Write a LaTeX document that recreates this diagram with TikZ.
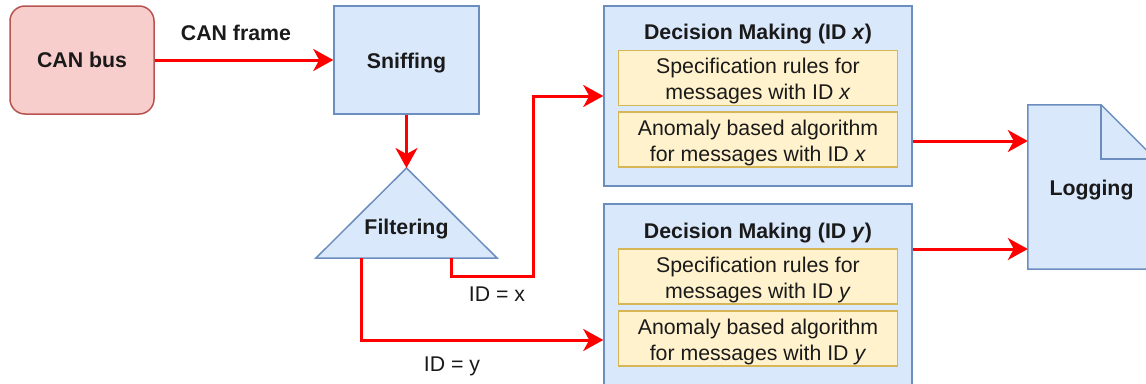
\documentclass[tikz,border=0pt]{standalone}
\usepackage{fontspec}
\setmainfont{Liberation Sans}
\usetikzlibrary{arrows.meta,calc}
\definecolor{redfill}{HTML}{F8CECC}
\definecolor{redstroke}{HTML}{B85450}
\definecolor{bluefill}{HTML}{DAE8FC}
\definecolor{bluestroke}{HTML}{6C8EBF}
\definecolor{yelfill}{HTML}{FFF2CC}
\definecolor{yelstroke}{HTML}{D6B656}
\definecolor{txtcol}{HTML}{1A1A1A}
\definecolor{linered}{HTML}{FF0000}
\begin{document}
\begin{tikzpicture}[x=1pt,y=-1pt,
  every node/.style={text=txtcol, font=\fontsize{21.3}{26}\selectfont, inner sep=0pt},
  canbox/.style={draw=redstroke, fill=redfill, line width=1.5pt, rounded corners=15pt},
  bluebox/.style={draw=bluestroke, fill=bluefill, line width=1.5pt},
  ybox/.style={draw=yelstroke, fill=yelfill, line width=1.5pt, minimum width=279pt, minimum height=55pt},
  ytext/.style={align=center, yshift=-3pt},
  conn/.style={draw=linered, line width=3pt, -{Stealth[length=20pt,width=22pt,inset=6pt]}}
]
\useasboundingbox (0,0) rectangle (1146,383);

\node[canbox, minimum width=144pt, minimum height=108pt] (can) at (82,60) {\bfseries CAN bus};
\node[bluebox, minimum width=145pt, minimum height=108pt] (sniff) at (406.5,60) {};
\node (snifft) at ($(sniff.center)+(0,3)$) {\bfseries Sniffing};

% Filtering triangle
\coordinate (ftop) at (406.5,168);
\coordinate (fbl) at (316,258);
\coordinate (fbr) at (497,258);
\coordinate (fx) at (451,258);
\coordinate (fy) at (361,258);
\coordinate (xturn) at (533,276);
\filldraw[draw=bluestroke, fill=bluefill, line width=1.5pt, line join=miter] (ftop) -- (fbl) -- (fbr) -- cycle;
\node (filt) at (406.5,229) {\bfseries Filtering};

% Decision making x
\node[bluebox, minimum width=308pt, minimum height=180pt] (dmx) at (758,96) {};
\node (dmxt) at (758,34) {\bfseries Decision Making (ID \textit{x})};
\node[ybox] (dmx1) at (758,78) {};
\node[ytext] (dmx1t) at (dmx1.center) {Specification rules for\\messages with ID \textit{x}};
\node[ybox] (dmx2) at (758,139.5) {};
\node[ytext] (dmx2t) at (dmx2.center) {Anomaly based algorithm\\for messages with ID \textit{x}};

% Decision making y
\node[bluebox, minimum width=308pt, minimum height=182pt] (dmy) at (758,295) {};
\node (dmyt) at (758,233) {\bfseries Decision Making (ID \textit{y})};
\node[ybox] (dmy1) at (758,276.5) {};
\node[ytext] (dmy1t) at (dmy1.center) {Specification rules for\\messages with ID \textit{y}};
\node[ybox] (dmy2) at (758,338.5) {};
\node[ytext] (dmy2t) at (dmy2.center) {Anomaly based algorithm\\for messages with ID \textit{y}};

% Logging document
\node[minimum width=127pt, minimum height=164pt] (log) at (1091.5,187) {};
\filldraw[draw=bluestroke, fill=bluefill, line width=1.5pt, line join=miter]
  (log.south west) -- (log.north west) -- ($(log.north east)+(-54,0)$) -- ($(log.north east)+(0,54)$) -- (log.south east) -- cycle;
\draw[bluestroke, line width=1.5pt, line join=miter] ($(log.north east)+(-54,0)$) -- ++(0,54) -- ++(54,0);
\node (logt) at ($(log.center)+(0,3)$) {\bfseries Logging};

% connectors
\draw[conn] (can.east) -- (sniff.west);
\node (canframe) at (236,33) {\bfseries CAN frame};
\draw[conn] (sniff.south) -- (ftop);
\draw[conn] (fx) |- (xturn) |- (dmx.west);
\node (idx) at (497,294) {ID = x};
\draw[conn] (fy) |- ($(dmy.west)+(0,45)$);
\node (idy) at (452,366) {ID = y};
\coordinate (ox) at ($(dmx.east)+(0,45)$);
\coordinate (oy) at ($(dmy.east)+(0,-46)$);
\draw[conn] (ox) -- (ox -| log.west);
\draw[conn] (oy) -- (oy -| log.west);
\end{tikzpicture}
\end{document}
